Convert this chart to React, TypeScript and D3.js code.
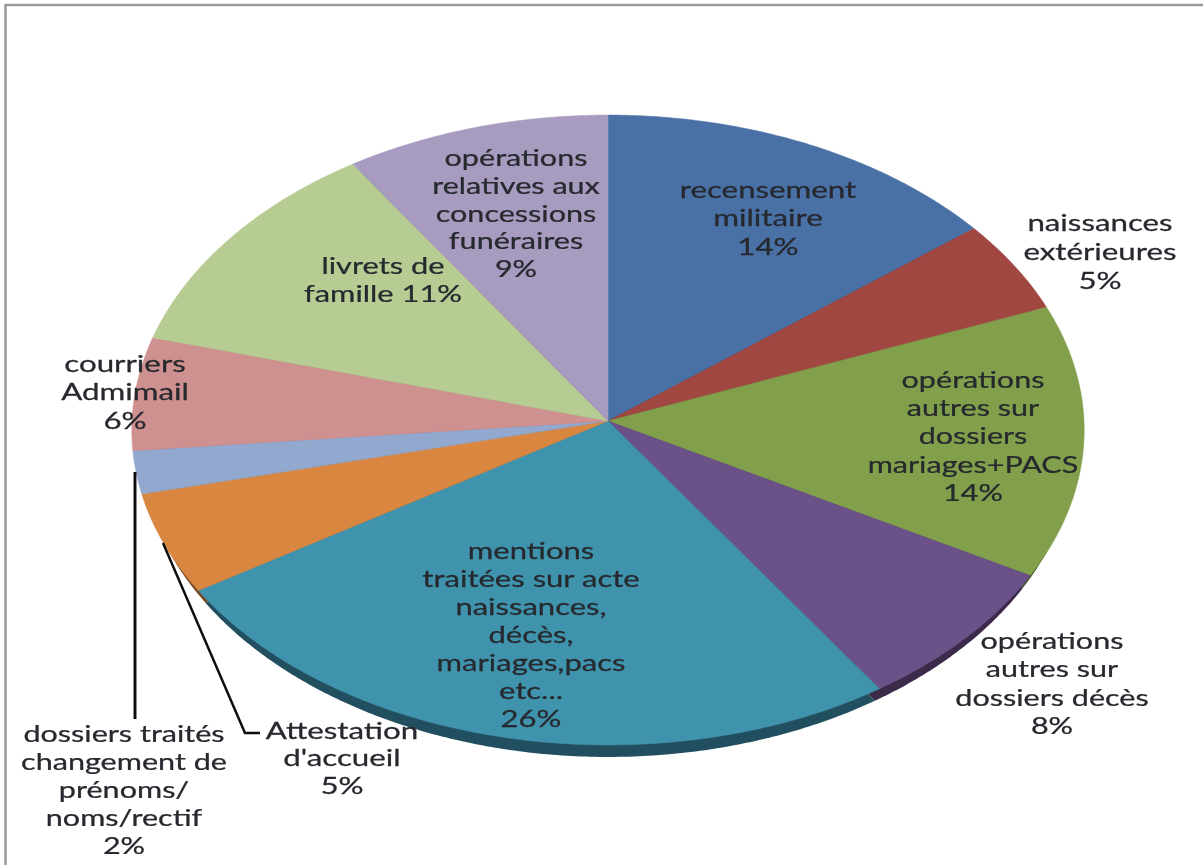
import React from "react";
import * as d3 from "d3";

// Data
const categories = [
  "recensement militaire",
  "naissances extérieures",
  "opérations autres sur dossiers mariages+PACS",
  "opérations autres sur dossiers décès",
  "mentions traitées sur acte naissances, décès, mariages,pacs etc...",
  "Attestation d'accueil",
  "dossiers traités changement de prénoms/ noms/rectif",
  "courriers Admimail",
  "livrets de famille",
  "opérations relatives aux concessions funéraires",
];
const shares = [14.3, 4.75, 14.0, 7.55, 25.5, 5.2, 2.2, 5.8, 11.45, 9.25];
const labelLines = [
  ["recensement", "militaire", "14%"],
  ["naissances", "extérieures", "5%"],
  ["opérations", "autres sur", "dossiers", "mariages+PACS", "14%"],
  ["opérations", "autres sur", "dossiers décès", "8%"],
  ["mentions", "traitées sur acte", "naissances,", "décès,", "mariages,pacs", "etc...", "26%"],
  ["Attestation", "d'accueil", "5%"],
  ["dossiers traités", "changement de", "prénoms/", "noms/rectif", "2%"],
  ["courriers", "Admimail", "6%"],
  ["livrets de", "famille 11%"],
  ["opérations", "relatives aux", "concessions", "funéraires", "9%"],
];
const sliceColors = ["#4A71A5", "#A04643", "#82A04C", "#6B5188", "#4193AC", "#D98740", "#92A8CF", "#CE9190", "#B7CC92", "#A79BBF"];

// Layout (label anchors: centre x, y of first line, line height, horizontal stretch)
const labelX = [768, 1100, 973, 1052, 531, 342, 124, 125, 383, 516];
const labelY = [189, 222, 379, 640, 550, 730, 733, 363, 265, 157];
const labelStep = [28.5, 29, 28.2, 28.5, 28, 27.5, 28, 28.5, 28.5, 27.8];
const labelStretch = [1.36, 1.36, 1.33, 1.33, 1.35, 1.36, 1.33, 1.36, 1.34, 1.33];

const W = 1203, H = 865;
const cx = 608, cy = 421, A = 476, B = 314.7, K = 0.0286;

type P = [number, number];
const project = (a: number, lift = 0, shrink = 0): P => {
  const X = Math.sin(a), Y = Math.cos(a), d = 1 + K * Y;
  return [cx + ((A - shrink) * X) / d, cy + lift - (B * Y) / d];
};

const pieGen = d3.pie<number>().sort(null).value((d) => d);
const arcsData = pieGen(shares);

function wedge(start: number, end: number, lift = 0, shrink = 0) {
  const n = Math.max(2, Math.ceil((end - start) / 0.01));
  const sc = d3.scaleLinear().domain([0, n]).range([start, end]);
  const pts: P[] = [[cx, cy + lift], ...d3.range(n + 1).map((i) => project(sc(i), lift, shrink))];
  return d3.line()(pts)! + "Z";
}

export default function App() {
  return (
    <svg width={W} height={H} style={{ position: "absolute", left: 0, top: 0, display: "block" }} fontFamily="Lato">
      <defs>
        <filter id="soft" x="-5%" y="-5%" width="110%" height="110%">
          <feGaussianBlur stdDeviation="0.7" />
        </filter>
        <filter id="softText" x="-5%" y="-5%" width="110%" height="110%">
          <feGaussianBlur stdDeviation="0.5" />
        </filter>
      </defs>
      <rect width={W} height={H} fill="#fff" />
      <path d={`M5.5 ${H}V5H${W}`} fill="none" stroke="#9a9a9a" strokeWidth={2.5} />
      <g filter="url(#soft)">
        {arcsData.map((d, i) => (
          <path key={"w" + i} d={wedge(d.startAngle, d.endAngle, 12, 8)} fill={d3.color(sliceColors[i])!.darker(1.7).formatHex()} />
        ))}
        {arcsData.map((d, i) => (
          <path key={"s" + i} d={wedge(d.startAngle, d.endAngle)} fill={sliceColors[i]} stroke={sliceColors[i]} strokeWidth={0.5} />
        ))}
      </g>
      <g fill="none" stroke="#111" filter="url(#softText)">
        <path d="M135 472V719" strokeWidth={3} />
        <path d="M163 543L245 733H260" strokeWidth={2.5} />
      </g>
      <g fontSize={23} fill="#26292e" stroke="#26292e" strokeWidth={0.25} textAnchor="middle" filter="url(#softText)">
        {labelLines.map((lines, i) => (
          <text key={categories[i]} transform={`translate(${labelX[i]},0) scale(${labelStretch[i]},1)`}>
            {lines.map((t, j) => (
              <tspan key={j} x={0} y={labelY[i] + j * labelStep[i]} dominantBaseline="central">{t}</tspan>
            ))}
          </text>
        ))}
      </g>
    </svg>
  );
}
